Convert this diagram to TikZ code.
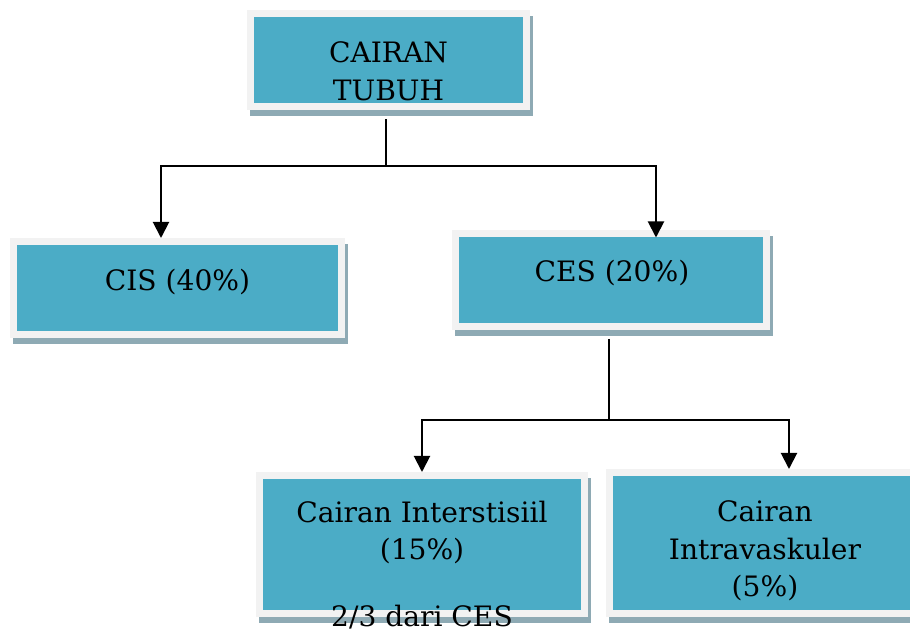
\documentclass[tikz,border=0pt]{standalone}
\usepackage{fontspec}
\setmainfont{DejaVu Serif}
\usepackage{tikz}
\usetikzlibrary{positioning,arrows.meta,calc,shadows}
\definecolor{teal500} {HTML}{4BACC6}
\definecolor{grey100} {HTML}{F2F2F2}
\definecolor{slate400}{HTML}{8EAAB4}
\tikzset{
  box/.style  ={draw=grey100, line width=0.14cm, fill=teal500, inner sep=0pt,
                drop shadow={shadow xshift=0.06cm, shadow yshift=-0.12cm,
                             fill=slate400, draw=slate400, line width=0.14cm,
                             opacity=1}},
  txt/.style  ={anchor=base, align=center, inner sep=0pt,
                font=\fontsize{16pt}{21.5pt}\selectfont},
  ln/.style   ={draw=black, line width=0.04cm},
  ar/.style   ={-{Triangle[length=0.32cm,width=0.32cm]}, draw=black,
                line width=0.04cm}
}

\begin{document}
\begin{tikzpicture}
\useasboundingbox (0,0) rectangle (18.2,12.64);
% boxes
\node[box, minimum width=5.52cm, minimum height=1.86cm] (tubuh) at (7.77,11.44) {};
\node[box, minimum width=6.56cm, minimum height=1.86cm] (cis)   at (3.55,6.88) {};
\node[box, minimum width=6.22cm, minimum height=1.86cm] (ces)   at (12.22,7.04) {};
\node[box, minimum width=6.50cm, minimum height=2.76cm] (inter) at (8.44,1.75) {};
\node[box, minimum width=6.18cm, minimum height=2.82cm] (intra) at (15.28,1.78) {};

% texts (base = last line)
\node[txt] (tubuhtxt) at (7.77,10.63) {CAIRAN\\TUBUH};
\node[txt] (cistxt)   at (3.55,6.82)  {CIS (40\%)};
\node[txt] (cestxt)   at (12.24,7.00) {CES (20\%)};
\node[txt] (intertxt) at (8.44,1.44)  {Cairan Interstisiil\\(15\%)};
\node[txt] (ratio)    at (8.44,0.11)  {2/3 dari CES};
\node[txt] (intratxt) at (15.30,0.70) {Cairan\\Intravaskuler\\(5\%)};

% connectors
\coordinate (j1) at (7.72,9.32);
\coordinate (j2) at (12.18,4.24);
\draw[ln, shorten <=0.19cm] (tubuh.south -| j1) -- (j1);
\draw[ar] (j1) -| ([xshift=-0.33cm]cis.north);
\draw[ar] (j1) -| ([xshift=0.90cm,yshift=-0.15cm]ces.north);
\draw[ln, shorten <=0.18cm] (ces.south -| j2) -- (j2);
\draw[ar] (j2) -| (inter.north);
\draw[ar] (j2) -| ([xshift=0.50cm]intra.north);
\end{tikzpicture}
\end{document}
